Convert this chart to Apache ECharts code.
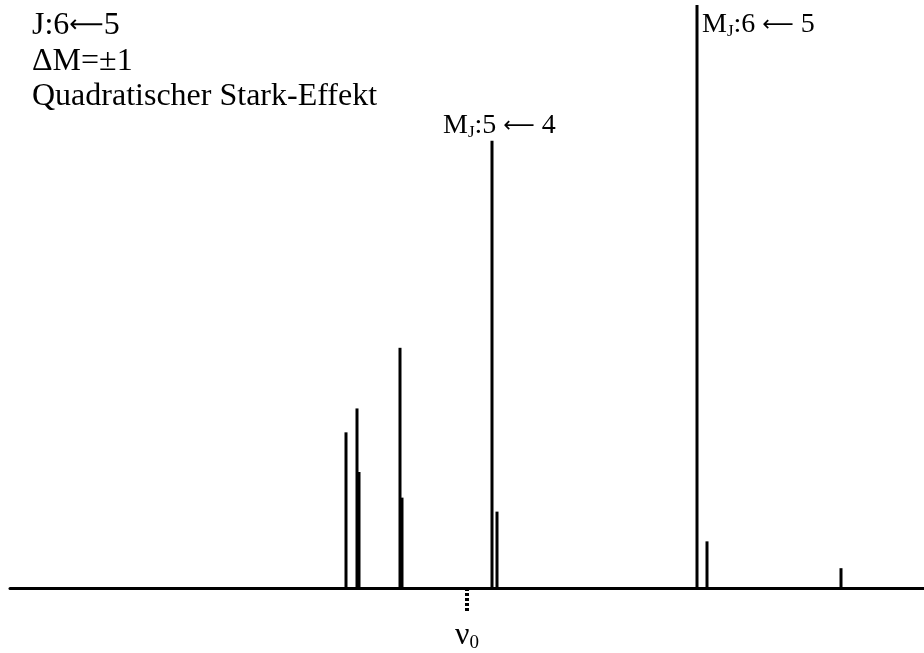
<!DOCTYPE html>
<html>
<head>
<meta charset="utf-8">
<script src="https://cdn.jsdelivr.net/npm/echarts@6/dist/echarts.min.js"></script>
<style>html,body{margin:0;padding:0;background:#fff}#c{width:924px;height:653px}</style>
</head>
<body>
<div id="c"></div>
<script>
// frequency offsets relative to nu0 (arbitrary units) and relative intensities
const thinFreq = [-12.1, -11.0, -6.7, -6.5, 2.5, 3.0, 23.0, 24.0, 37.4];
const thinInt  = [26.7, 30.8, 41.2, 15.5, 76.7, 13.1, 100, 8.0, 3.4];
const thickFreq = [-10.8];
const thickInt  = [19.9];
const axisTickValues = [0];

const serif = '"Liberation Serif","DejaVu Serif",serif';
const arrowFont = '"DejaVu Sans",sans-serif';
const chart = echarts.init(document.getElementById('c'));
const labelRich = {
  m: {fontFamily: serif, fontSize: 28, fill: '#000'},
  a: {fontFamily: arrowFont, fontSize: 22, fill: '#000'},
  s: {fontFamily: serif, fontSize: 17, fill: '#000', padding: [14, 0, 0, 0]}
};
chart.setOption({
  animation: false,
  backgroundColor: '#fff',
  grid: {left: 10, right: 0, top: 5, bottom: 58},
  xAxis: {
    type: 'value', min: -45.7, max: 45.7,
    splitLine: {show: false},
    axisLine: {lineStyle: {color: '#000', width: 3}},
    axisTick: {show: true, customValues: axisTickValues, length: 25, inside: false,
      lineStyle: {color: '#000', width: 4, type: [3, 2]}},
    axisLabel: {show: true, customValues: axisTickValues, margin: 30,
      formatter: () => '{a|ν}{b|0}',
      rich: {
        a: {fontFamily: serif, fontSize: 32, color: '#000'},
        b: {fontFamily: serif, fontSize: 19, color: '#000', padding: [16, 0, 0, 0]}
      }}
  },
  yAxis: {type: 'value', min: 0, max: 100, show: false},
  series: [
    {type: 'bar', barWidth: 3, barGap: '-100%', itemStyle: {color: '#000'},
     data: thinFreq.map((f, i) => [f, thinInt[i]])},
    {type: 'bar', barWidth: 3, barGap: '-100%', itemStyle: {color: '#000'},
     data: thickFreq.map((f, i) => [f, thickInt[i]])}
  ],
  graphic: [
    {type: 'text', left: 32, top: 10, style: {
      text: '{m|J:6}{a|⟵}{m|5}',
      rich: {m: {fontFamily: serif, fontSize: 32, fill: '#000'},
             a: {fontFamily: arrowFont, fontSize: 24, fill: '#000'}}}},
    {type: 'text', left: 32, top: 46, style: {text: 'ΔM=±1', font: '32px ' + serif, fill: '#000'}},
    {type: 'text', left: 32, top: 81, style: {text: 'Quadratischer Stark-Effekt', font: '32px ' + serif, fill: '#000'}},
    {type: 'text', left: 443, top: 112, style: {text: '{m|M}{s|J}{m|:5 }{a|⟵}{m| 4}', rich: labelRich}},
    {type: 'text', left: 702, top: 11, style: {text: '{m|M}{s|J}{m|:6 }{a|⟵}{m| 5}', rich: labelRich}}
  ]
});
</script>
</body>
</html>
